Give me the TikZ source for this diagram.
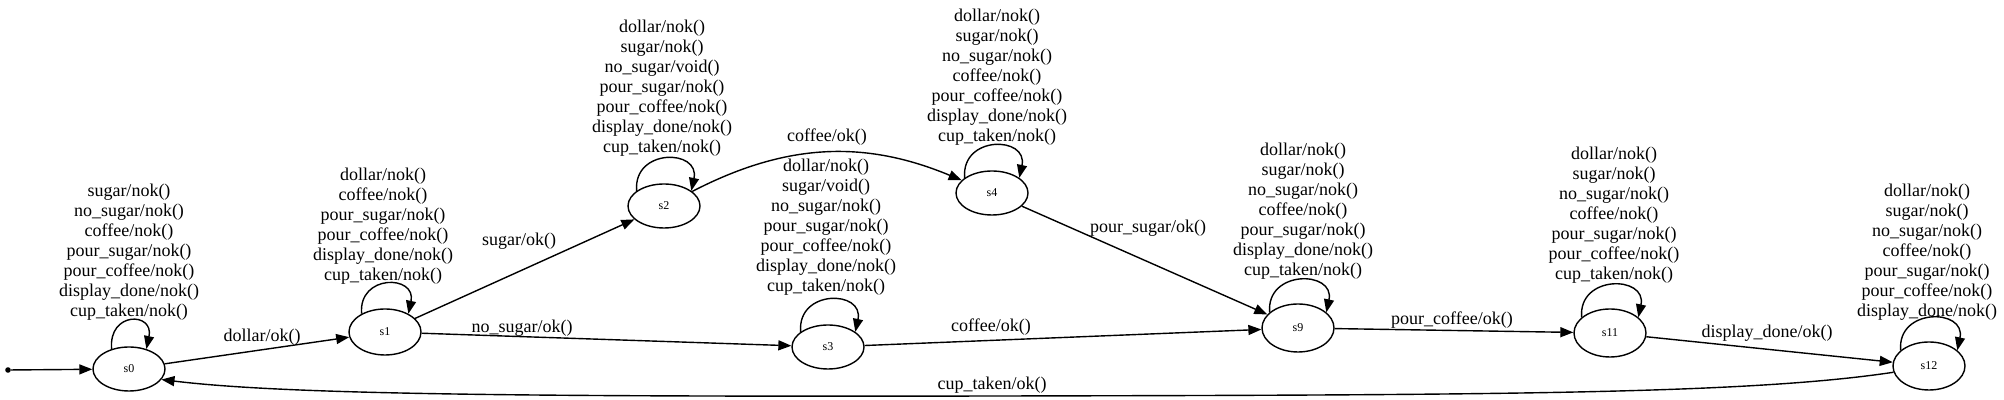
\documentclass[tikz,border=0pt]{standalone}
\usepackage{fontspec}
\setmainfont{Liberation Serif}
\usetikzlibrary{arrows.meta,shapes.geometric}
\begin{document}
\begin{tikzpicture}[x=0.5pt,y=0.5pt,
  st/.style={draw, ellipse, line width=0.7pt, minimum width=36pt, minimum height=22pt, inner sep=0pt, font=\fontsize{6}{7}\selectfont},
  stt/.style={st, minimum height=24pt},
  arr/.style={-{Triangle[length=6.5pt,width=5pt]}, line width=0.7pt},
  lbl/.style={font=\fontsize{9}{10}\selectfont, align=center, inner sep=0pt}]
\useasboundingbox (0,0) rectangle (2004,400);
% states
\node[circle, fill, inner sep=0pt, minimum size=2.8pt] (start) at (8,30) {};
\node[st] (s0) at (129,31) {s0};
\node[st, minimum height=23pt] (s1) at (385,68) {s1};
\node[st] (s2) at (664,194) {s2};
\node[st] (s4) at (992,207) {s4};
\node[st] (s3) at (828,53) {s3};
\node[stt] (s9) at (1298,72) {s9};
\node[stt] (s11) at (1610,67) {s11};
\node[stt] (s12) at (1929,34) {s12};
% transitions
\draw[arr] (start) -- (s0);
\draw[arr] (s0) -- (s1);
\draw[arr] (s1) -- (s2);
\draw[arr] (s1) -- (s3);
\draw[arr] (s2) to[bend left=25] (s4);
\draw[arr] (s4) -- (s9);
\draw[arr] (s3) -- (s9);
\draw[arr] (s9) -- (s11);
\draw[arr] (s11) -- (s12);
\draw[arr] (s12.190) .. controls (1750,6) and (1500,5) .. (1000,4) .. controls (500,3) and (280,6) .. (s0.-18);
% self loops
\foreach \s/\a/\b/\c in {s0/131/49/19pt, s1/142/38/20pt, s2/151/29/21.5pt, s4/151/29/21.5pt, s3/151/29/21.5pt, s9/151/29/21.5pt, s11/151/29/21.5pt, s12/151/29/21.5pt}{
  \draw[arr] (\s.\a) .. controls +(95:\c) and +(78:\c) .. (\s.\b);
}
% loop labels
\node[lbl] (l0) at (129,148) {sugar/nok()\\no\_sugar/nok()\\coffee/nok()\\pour\_sugar/nok()\\pour\_coffee/nok()\\display\_done/nok()\\cup\_taken/nok()};
\node[lbl] (l1) at (383,174) {dollar/nok()\\coffee/nok()\\pour\_sugar/nok()\\pour\_coffee/nok()\\display\_done/nok()\\cup\_taken/nok()};
\node[lbl] (l2) at (662,312) {dollar/nok()\\sugar/nok()\\no\_sugar/void()\\pour\_sugar/nok()\\pour\_coffee/nok()\\display\_done/nok()\\cup\_taken/nok()};
\node[lbl] (l4) at (997,323) {dollar/nok()\\sugar/nok()\\no\_sugar/nok()\\coffee/nok()\\pour\_coffee/nok()\\display\_done/nok()\\cup\_taken/nok()};
\node[lbl] (l3) at (826,173) {dollar/nok()\\sugar/void()\\no\_sugar/nok()\\pour\_sugar/nok()\\pour\_coffee/nok()\\display\_done/nok()\\cup\_taken/nok()};
\node[lbl] (l9) at (1303,189) {dollar/nok()\\sugar/nok()\\no\_sugar/nok()\\coffee/nok()\\pour\_sugar/nok()\\display\_done/nok()\\cup\_taken/nok()};
\node[lbl] (l11) at (1614,185) {dollar/nok()\\sugar/nok()\\no\_sugar/nok()\\coffee/nok()\\pour\_sugar/nok()\\pour\_coffee/nok()\\cup\_taken/nok()};
\node[lbl] (l12) at (1927,148) {dollar/nok()\\sugar/nok()\\no\_sugar/nok()\\coffee/nok()\\pour\_sugar/nok()\\pour\_coffee/nok()\\display\_done/nok()};
% edge labels
\node[lbl] (e01) at (262,63) {dollar/ok()};
\node[lbl] (e12) at (519,159) {sugar/ok()};
\node[lbl] (e13) at (522,72) {no\_sugar/ok()};
\node[lbl] (e24) at (827,263) {coffee/ok()};
\node[lbl] (e39) at (991,73) {coffee/ok()};
\node[lbl] (e49) at (1148,172) {pour\_sugar/ok()};
\node[lbl] (e911) at (1452,80) {pour\_coffee/ok()};
\node[lbl] (e1112) at (1767,67) {display\_done/ok()};
\node[lbl] (e120) at (992,15) {cup\_taken/ok()};
\end{tikzpicture}
\end{document}
